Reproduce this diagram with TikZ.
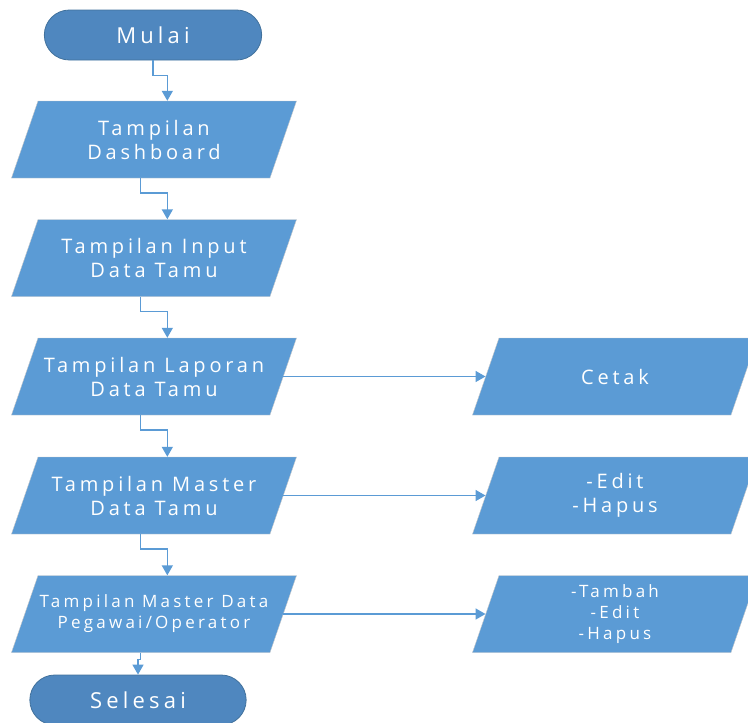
\documentclass[tikz,border=0pt]{standalone}
\usepackage{fontspec}
\setmainfont{Open Sans}[LetterSpace=19]
\usetikzlibrary{shapes.geometric,shapes.misc,arrows.meta,shadows}
\definecolor{bluefill}{HTML}{5B9BD5}
\definecolor{termfill}{HTML}{4F87BF}
\definecolor{termline}{HTML}{41719C}
\definecolor{edgegray}{HTML}{C8C8C8}
\tikzstyle{terminal}=[rounded rectangle, draw=termline, fill=termfill, text=white,
minimum width=224pt, minimum height=50pt, line width=0.8pt, font=\fontsize{22}{26}\selectfont]
\tikzstyle{io}=[trapezium, trapezium left angle=71, trapezium right angle=109,
draw=edgegray, fill=bluefill, text=white, inner sep=0pt, font=\fontsize{20}{24}\selectfont,
execute at begin node={\begin{minipage}[c][77pt][c]{232pt}\centering},
execute at end node={\end{minipage}}]
\tikzstyle{iosmall}=[io, font=\fontsize{17}{21}\selectfont]
\tikzstyle{flow}=[draw=bluefill, line width=1.5pt, -{Triangle[length=10pt,width=11pt]}]

\begin{document}
\begin{tikzpicture}[x=1pt, y=-1pt]
    \useasboundingbox (0,0) rectangle (748,723);
    % main column
    \node (mulai)[terminal] at (153,35) {Mulai};
    \node (dashboard)[io] at (154,139.5) {Tampilan\\Dashboard};
    \node (input)[io] at (154,258) {Tampilan Input\\Data Tamu};
    \node (laporan)[io] at (154,376.5) {Tampilan Laporan\\Data Tamu};
    \node (mastertamu)[io] at (154,495.5) {Tampilan Master\\Data Tamu};
    \node (masterpegawai)[iosmall] at (154,614) {Tampilan Master Data\\Pegawai/Operator};
    \node (selesai)[terminal, minimum width=223pt] at (138,700) {Selesai};
    % right column
    \node (cetak)[io] at (615,376.5) {Cetak};
    \node (edithapus)[io] at (615,495.5) {-Edit\\-Hapus};
    \node (tambah)[iosmall] at (615,614) {-Tambah\\-Edit\\-Hapus};

    \draw[flow] (mulai.south) -- ++(0,15) -| (dashboard.top side);
    \draw[flow] (dashboard.bottom side) -- ++(0,15) -| (input.top side);
    \draw[flow] (input.bottom side) -- ++(0,15) -| (laporan.top side);
    \draw[flow] (laporan.bottom side) -- ++(0,15) -| (mastertamu.top side);
    \draw[flow] (mastertamu.bottom side) -- ++(0,15) -| (masterpegawai.top side);
    \draw[flow] (masterpegawai.bottom side) -- ++(0,7) -| (selesai.north);

    \draw[flow] (laporan.right side) -- (cetak.left side);
    \draw[flow] (mastertamu.right side) -- (edithapus.left side);
    \draw[flow] (masterpegawai.right side) -- (tambah.left side);
\end{tikzpicture}
\end{document}
